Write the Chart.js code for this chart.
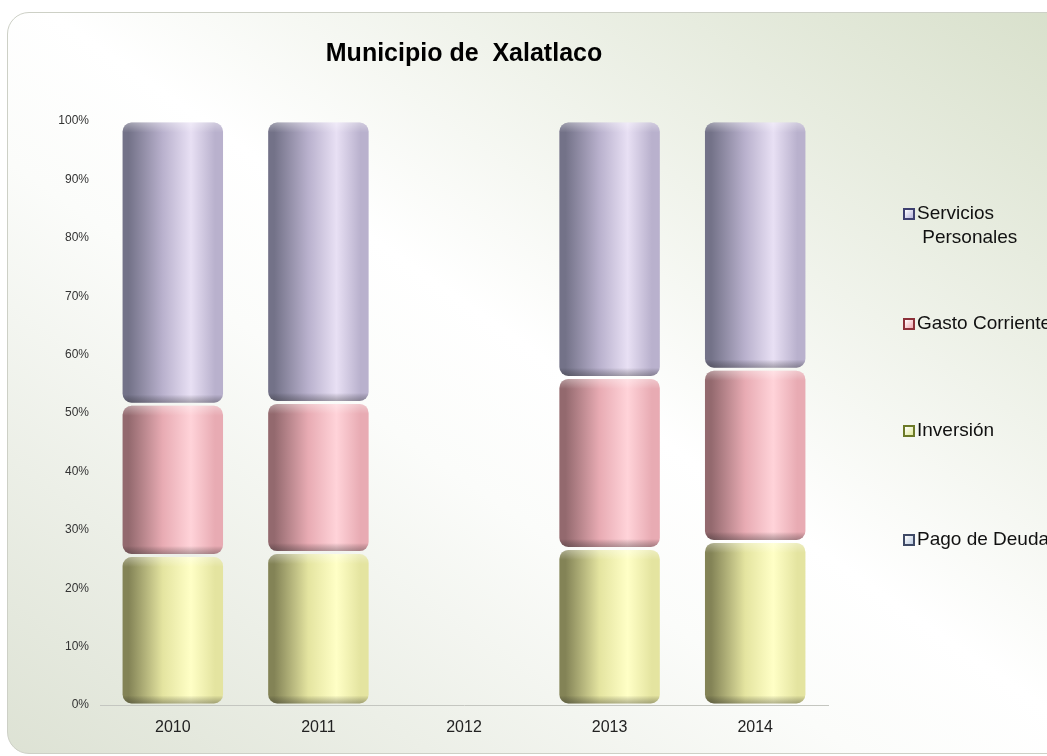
<!DOCTYPE html>
<html lang="es">
<head>
  <meta charset="UTF-8">
  <title>Municipio de Xalatlaco</title>
  <script src="https://cdn.jsdelivr.net/npm/chart.js"></script>
  <style>
    body {
      margin: 0;
      width: 1047px;
      height: 756px;
      overflow: hidden;
      background: #fff;
      font-family: Arial, 'Liberation Sans', sans-serif;
    }

    #marco {
      position: absolute;
      left: 7px;
      top: 12px;
      width: 1060px;
      height: 740px;
      border: 1px solid #cdd0c6;
      border-radius: 22px;
      background: linear-gradient(to top right, #dde2d4 0%, #fbfcfa 40%, #ffffff 52%, #d8e0cb 100%);
    }

    #contenedor {
      position: absolute;
      left: 0;
      top: 0;
      width: 930px;
      height: 756px;
    }

    #leyenda {
      position: absolute;
      left: 903px;
      top: 0;
      font-size: 19px;
      color: #111;
    }

    .item {
      position: absolute;
      left: 0;
      white-space: nowrap;
      line-height: 24px;
      padding-left: 14px;
    }

    .cuadro {
      position: absolute;
      left: 0;
      top: 7px;
      width: 8px;
      height: 8px;
      border: 2px solid;
    }
  </style>
</head>
<body>

<div id="marco"></div>

<div id="contenedor">
  <canvas id="grafico"></canvas>
</div>

<div id="leyenda"></div>

<script>
  // datos (porcentajes)
  var anios = ['2010', '2011', '2012', '2013', '2014'];
  var pagoDeuda = [0, 0, 0, 0, 0];
  var inversion = [25.6, 26.1, 0, 26.8, 28.0];
  var gastoCorriente = [25.9, 25.7, 0, 29.3, 29.5];
  var serviciosPersonales = [48.5, 48.2, 0, 43.9, 42.5];
  var ticksY = ['0%', '10%', '20%', '30%', '40%', '50%', '60%', '70%', '80%', '90%', '100%'];

  // colores tipo cilindro: [borde oscuro, brillo, lado derecho]
  var tonos = {
    'Pago de Deuda': ['#707a90', '#dfe6f4', '#aeb8cc'],
    'Inversión': ['#838356', '#ffffc6', '#e4e4a0'],
    'Gasto Corriente': ['#93696e', '#ffd3d9', '#e8abb3'],
    'Servicios Personales': ['#737288', '#e8e0f4', '#b9b1cd']
  };

  var leyenda = [
    { nombre: 'Servicios\nPersonales', borde: '#3e4070', relleno: '#b8b6dc', y: 201 },
    { nombre: 'Gasto Corriente', borde: '#8c3039', relleno: '#eea8b0', y: 311 },
    { nombre: 'Inversión', borde: '#6c7a28', relleno: '#dfe89a', y: 418 },
    { nombre: 'Pago de Deuda', borde: '#3f4a66', relleno: '#bccbe0', y: 527 }
  ];

  var divLeyenda = document.getElementById('leyenda');
  leyenda.forEach(function (l) {
    var d = document.createElement('div');
    d.className = 'item';
    d.style.top = l.y + 'px';
    d.innerHTML = '<span class="cuadro" style="border-color:' + l.borde + ';background:linear-gradient(135deg,#fff,' + l.relleno + ')"></span>' +
      l.nombre.replace('\n', '<br>&nbsp;');
    divLeyenda.appendChild(d);
  });

  // dibuja cada barra como cilindro usando la posicion que calcula Chart.js
  var cilindros = {
    id: 'cilindros',
    afterDatasetsDraw: function (chart) {
      var ctx = chart.ctx;
      chart.data.datasets.forEach(function (ds, i) {
        var meta = chart.getDatasetMeta(i);
        var t = tonos[ds.label];
        meta.data.forEach(function (el) {
          var top = Math.min(el.y, el.base) + 1.5;
          var bot = Math.max(el.y, el.base) - 1.5;
          if (bot - top < 4) return;
          var x0 = el.x - el.width / 2;
          var x1 = el.x + el.width / 2;
          var g = ctx.createLinearGradient(x0, 0, x1, 0);
          g.addColorStop(0, t[0]);
          g.addColorStop(0.06, t[0]);
          g.addColorStop(0.4, t[2]);
          g.addColorStop(0.68, t[1]);
          g.addColorStop(0.92, t[2]);
          g.addColorStop(1, t[2]);
          ctx.save();
          ctx.beginPath();
          ctx.roundRect(x0, top, x1 - x0, bot - top, 9);
          ctx.fillStyle = g;
          ctx.fill();
          // sombra inferior
          var s = ctx.createLinearGradient(0, bot - 8, 0, bot);
          s.addColorStop(0, 'rgba(0,0,0,0)');
          s.addColorStop(1, 'rgba(40,40,40,0.35)');
          ctx.fillStyle = s;
          ctx.fill();
          // brillo superior
          var h = ctx.createLinearGradient(0, top, 0, top + 10);
          h.addColorStop(0, 'rgba(255,255,255,0.35)');
          h.addColorStop(1, 'rgba(255,255,255,0)');
          ctx.fillStyle = h;
          ctx.fill();
          ctx.restore();
        });
      });
    }
  };

  function serie(nombre, datos) {
    return {
      label: nombre,
      data: datos,
      backgroundColor: 'rgba(0,0,0,0)',
      borderWidth: 0,
      categoryPercentage: 0.69,
      barPercentage: 1
    };
  }

  var ctx = document.getElementById('grafico').getContext('2d');

  var grafico = new Chart(ctx, {
    type: 'bar',
    data: {
      labels: anios,
      datasets: [
        serie('Pago de Deuda', pagoDeuda),
        serie('Inversión', inversion),
        serie('Gasto Corriente', gastoCorriente),
        serie('Servicios Personales', serviciosPersonales)
      ]
    },
    options: {
      responsive: true,
      maintainAspectRatio: false,
      animation: false,
      layout: {
        padding: { left: 40, right: 102, top: 0, bottom: 11 }
      },
      plugins: {
        legend: { display: false },
        tooltip: { enabled: false },
        title: {
          display: true,
          fullSize: false,
          text: 'Municipio de  Xalatlaco',
          color: '#000',
          font: { family: "'Liberation Sans Narrow', 'Arial Narrow', Arial", size: 25, weight: 'bold' },
          padding: { top: 39, bottom: 52 }
        }
      },
      scales: {
        x: {
          stacked: true,
          grid: { display: false },
          border: { display: true, color: '#c4c6c0', width: 1 },
          ticks: { color: '#222', font: { family: 'Arial', size: 16 }, padding: 5 },
          afterFit: function (scale) { scale.height = 40; }
        },
        y: {
          stacked: true,
          min: 0,
          max: 100,
          grid: { display: false },
          border: { display: false },
          ticks: {
            stepSize: 10,
            color: '#333',
            padding: 3,
            font: { family: 'Arial', size: 12 },
            callback: function (v) { return ticksY[Math.round(v / 10)]; }
          },
          afterFit: function (scale) { scale.width = 60; }
        }
      }
    },
    plugins: [cilindros]
  });
</script>

</body>
</html>
